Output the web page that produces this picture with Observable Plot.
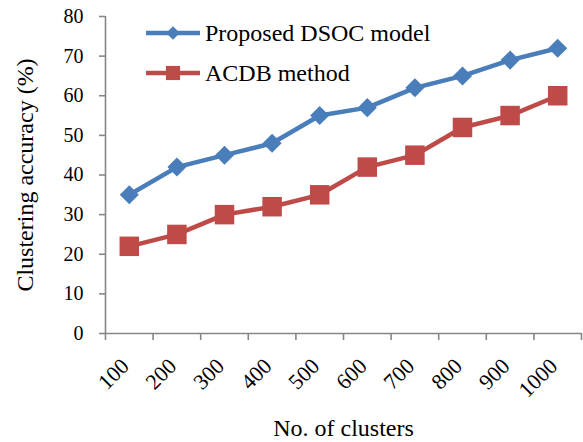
<!DOCTYPE html>
<html>
<head>
<meta charset="utf-8">
<script src="https://cdn.jsdelivr.net/npm/d3@7"></script>
<script src="https://cdn.jsdelivr.net/npm/@observablehq/plot@0.6"></script>
<style>
  html, body { margin: 0; padding: 0; background: #fff; }
  #wrap { position: relative; width: 583px; height: 442px; font-family: "Liberation Serif", "Times New Roman", serif; }
  #legend { position: absolute; left: 145px; top: 13px; font-size: 24px; color: #000; }
  .item { display: flex; align-items: center; height: 40px; }
  .item svg { margin-right: 4px; }
</style>
</head>
<body>
<div id="wrap"><div id="legend"></div></div>
<script>
const categories = [100, 200, 300, 400, 500, 600, 700, 800, 900, 1000];
const dsoc = [35, 42, 45, 48, 55, 57, 62, 65, 69, 72];
const acdb = [22, 25, 30, 32, 35, 42, 45, 52, 55, 60];
const yTicks = [0, 10, 20, 30, 40, 50, 60, 70, 80];
const seriesNames = ["Proposed DSOC model", "ACDB method"];
const colors = ["#4a7ebb", "#be4b48"];
const symbols = ["diamond2", "square"];

const step = categories[1] - categories[0];
const boundaries = categories.map(c => c - step / 2).concat([categories[categories.length - 1] + step / 2]);
const rows = categories.flatMap((c, i) => [
  {x: c, y: dsoc[i], s: seriesNames[0]},
  {x: c, y: acdb[i], s: seriesNames[1]}
]);
const axisGray = "#868686";

const chart = Plot.plot({
  width: 583,
  height: 442,
  marginLeft: 105,
  marginRight: 2,
  marginTop: 16,
  marginBottom: 109,
  style: {fontFamily: "'Liberation Serif', 'Times New Roman', serif", fontSize: "20px", background: "transparent", color: "#000"},
  x: {type: "linear", domain: [boundaries[0], boundaries[boundaries.length - 1]], axis: null},
  y: {domain: [yTicks[0], yTicks[yTicks.length - 1]], axis: null},
  color: {domain: seriesNames, range: colors},
  symbol: {domain: seriesNames, range: symbols},
  marks: [
    Plot.ruleY([yTicks[0]], {stroke: axisGray, strokeWidth: 1.6}),
    Plot.ruleX([boundaries[0]], {stroke: axisGray, strokeWidth: 1.6}),
    Plot.axisY({ticks: yTicks, tickSize: 6, tickPadding: 16, stroke: axisGray, strokeWidth: 1.6, fill: "#000", fontSize: 20, label: null}),
    Plot.axisX({ticks: boundaries, tickSize: 7, tickFormat: () => "", stroke: axisGray, strokeWidth: 1.6, label: null}),
    Plot.axisX({ticks: categories, tickSize: 0, tickPadding: 29, tickRotate: -45, tickFormat: d => String(d), fill: "#000", fontSize: 22, dx: -4, label: null}),
    Plot.line(rows, {x: "x", y: "y", z: "s", stroke: "s", strokeWidth: 4.5}),
    Plot.dot(rows.filter(d => d.s === seriesNames[0]), {x: "x", y: "y", symbol: "s", fill: "s", r: 8.6, stroke: null}),
    Plot.dot(rows.filter(d => d.s === seriesNames[1]), {x: "x", y: "y", symbol: "s", fill: "s", r: 11, stroke: null}),
    Plot.text(["Clustering accuracy (%)"], {frameAnchor: "left", textAnchor: "middle", dx: -80, rotate: -90, fontSize: 24, fill: "#000", text: d => d}),
    Plot.text(["No. of clusters"], {frameAnchor: "bottom", dy: 102, fontSize: 24, fill: "#000", text: d => d})
  ]
});
const wrap = document.getElementById("wrap");
wrap.insertBefore(chart, wrap.firstChild);

const legend = d3.select("#legend");
seriesNames.forEach((name, i) => {
  const item = legend.append("div").attr("class", "item");
  const svg = item.append("svg").attr("width", 56).attr("height", 20);
  svg.append("line").attr("x1", 1).attr("x2", 55).attr("y1", 10).attr("y2", 10)
    .attr("stroke", colors[i]).attr("stroke-width", 4.5);
  const sym = i === 0 ? d3.symbolDiamond2 : d3.symbolSquare;
  const size = i === 0 ? 120 : 200;
  svg.append("path").attr("d", d3.symbol(sym, size)()).attr("transform", "translate(28,10)").attr("fill", colors[i]);
  item.append("span").text(name);
});
</script>
</body>
</html>
